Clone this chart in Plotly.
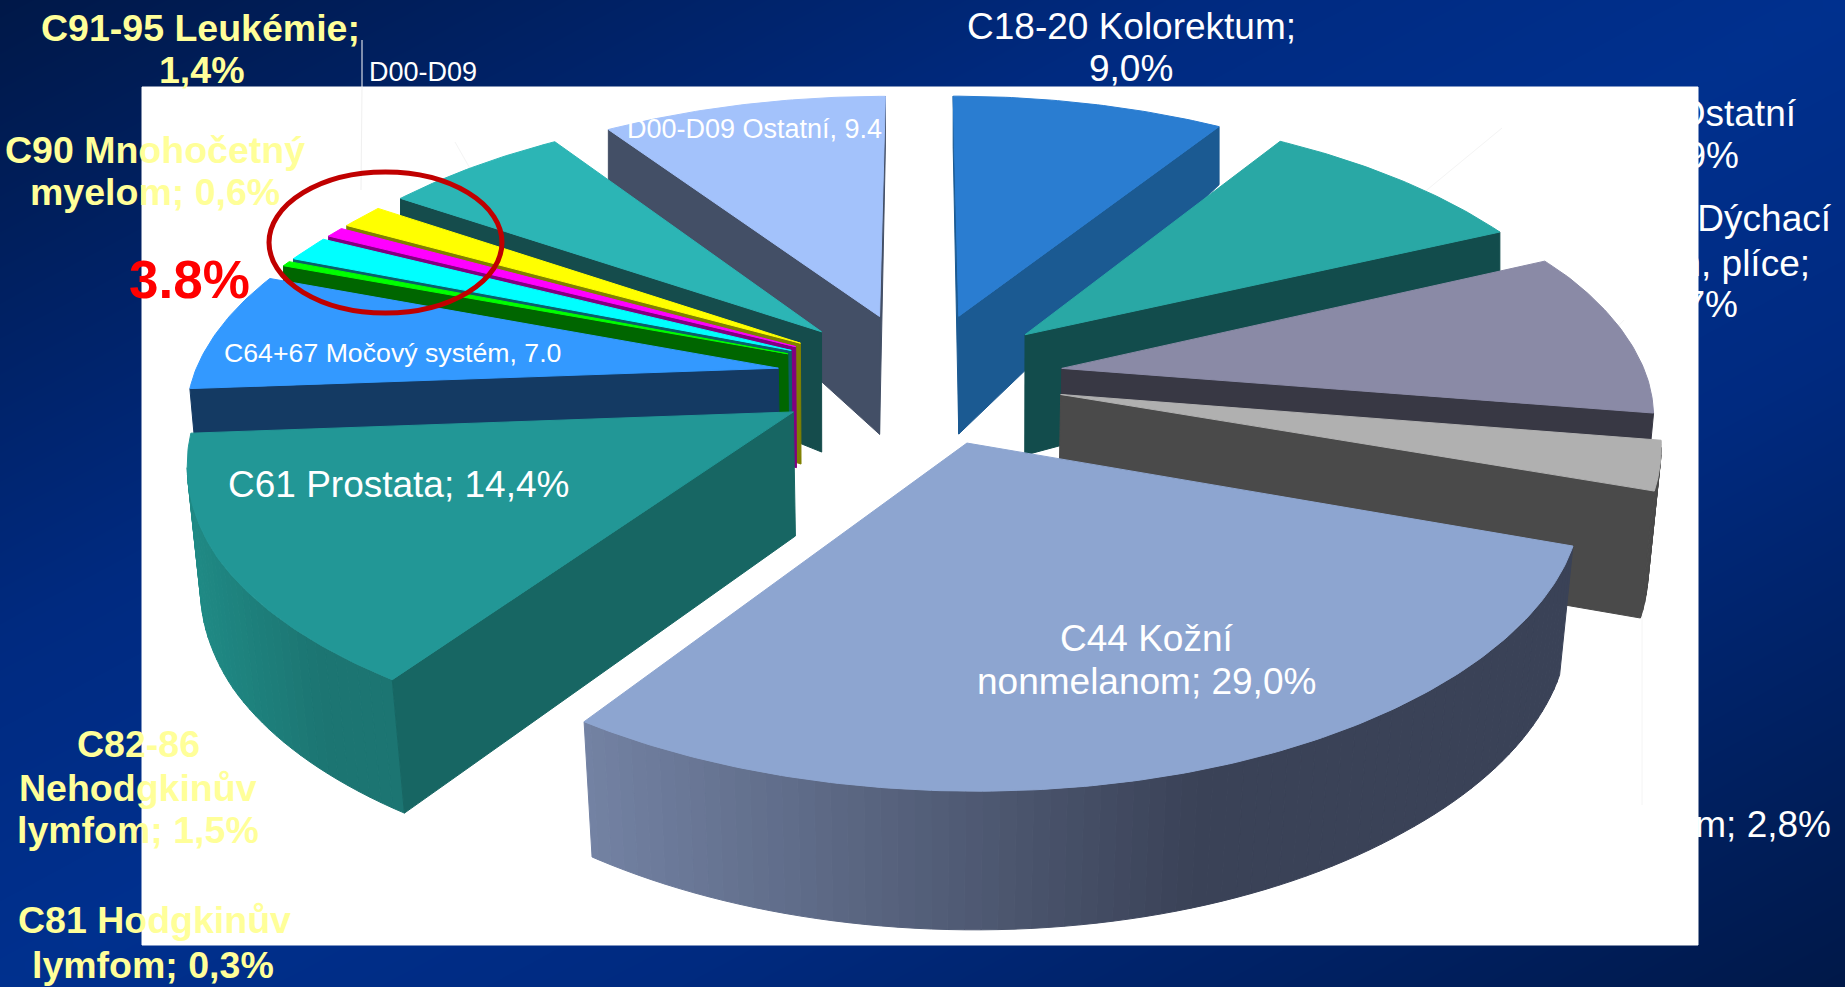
import numpy as np
import plotly.graph_objects as go

# ---------- data ----------
categories = ["C18-20 Kolorektum", "C15-26 Ostatní", "C30-39 Dýchací systém, plíce", "C43 Melanom",
              "C44 Kožní nonmelanom", "C61 Prostata", "C64+67 Močový systém", "C81 Hodgkinův lymfom",
              "C82-86 Nehodgkinův lymfom", "C90 Mnohočetný myelom", "C91-95 Leukémie", "Ostatní", "D00-D09 Ostatní"]
values = [9.0, 8.9, 9.7, 2.8, 29.0, 14.4, 7.0, 0.3, 1.5, 0.6, 1.4, 6.0, 9.4]
top_colors = ["#2a7dd1", "#29a8a5", "#8a8aa6", "#b0b0b0", "#8da5d0", "#229796", "#3399ff",
              "#00ff00", "#00ffff", "#ff00ff", "#ffff00", "#2cb5b5", "#a3c2fb"]
side_colors = ["#1b5a92", "#124c4c", "#383844", "#4a4a4a", "#3a4257", "#176663", "#143a63",
               "#006600", "#0b5f6a", "#800080", "#808000", "#154c4c", "#434f66"]
rim_gradients = {4: ("#7382a3", "#3a4257"), 5: ("#1f8a85", "#1c7572")}

# ---------- view of the exploded 3-D pie ----------
CX, SX, CY, SY, P, EXPLODE = 920, 594, 369, 268, 0.18, 0.246
DEPTH_Y = [-1.25, -1.0, -0.5, -0.2, 0.2, 0.6, 1.0, 1.25]
DEPTH_PX = [139, 134, 128, 125, 120, 95, 62, 50]
W, H = 1845, 987


def project(X, Y):
    w = 1 + P * Y
    kx = np.interp(Y, [-1.25, -1.0, -0.3, 0.0, 0.4], [0.95, 0.955, 0.975, 0.985, 0.995])
    dy = np.interp(Y, [-1.25, -1.0, -0.6, -0.1, 0.6, 1.0, 1.25], [-3, 1, 8, 9, 7, 1, -2])
    return CX + kx * SX * X / w, CY - SY * Y / w + dy


def project_bottom(X, Y):
    x, y = project(X, Y)
    k = np.interp(Y, [-1.25, -0.5, 0, 0.2], [0.975, 0.98, 0.985, 1.0])
    return CX + (x - CX) * k, y + np.interp(Y, DEPTH_Y, DEPTH_PX)


def hex_mix(c0, c1, t):
    a = [int(c0[i:i + 2], 16) for i in (1, 3, 5)]
    b = [int(c1[i:i + 2], 16) for i in (1, 3, 5)]
    return "rgb(%d,%d,%d)" % tuple(round(u + (v - u) * t) for u, v in zip(a, b))


def poly(xs, ys, color):
    return go.Scatter(x=list(xs), y=list(ys), mode="lines", fill="toself", fillcolor=color,
                      line=dict(color=color, width=1), hoverinfo="skip", showlegend=False)


def front_facing(p0, p1, q):
    dx = p1[0] - p0[0]
    if abs(dx) < 1e-9:
        return True
    return p0[1] + (q[0] - p0[0]) * (p1[1] - p0[1]) / dx > q[1]


def wedge_traces(i, start, end):
    mid = np.radians((start + end) / 2)
    ax, ay = EXPLODE * np.sin(mid), EXPLODE * np.cos(mid)
    th = np.radians(np.linspace(start, end, max(4, int((end - start) * 1.5))))
    X, Y = ax + np.sin(th), ay + np.cos(th)
    xt, yt = project(X, Y)
    xb, yb = project_bottom(X, Y)
    apx, apy = project(ax, ay)
    abx, aby = project_bottom(ax, ay)
    out = []
    # outer curved side
    xlo, xhi = xt.min(), xt.max()
    for k in range(0, len(th) - 1, 2):
        j = min(k + 2, len(th) - 1)
        if xt[j] >= xt[k]:
            continue
        if i in rim_gradients:
            t = np.clip(((xt[k] + xt[j]) / 2 - xlo) / (0.62 * (xhi - xlo)), 0, 1)
            col = hex_mix(*rim_gradients[i], t)
        else:
            col = side_colors[i]
        seg = list(range(k, j + 1))
        out.append(poly(list(xt[seg]) + list(xb[seg][::-1]) + [xt[k]],
                        list(yt[seg]) + list(yb[seg][::-1]) + [yt[k]], col))
    # flat cut faces
    q = (xt[len(th) // 2], yt[len(th) // 2])
    for e in (0, -1):
        if front_facing((apx, apy), (xt[e], yt[e]), q):
            out.append(poly([apx, xt[e], xb[e], abx, apx], [apy, yt[e], yb[e], aby, apy], side_colors[i]))
    # top face
    out.append(poly([apx] + list(xt) + [apx], [apy] + list(yt) + [apy], top_colors[i]))
    return ay, out


fig = go.Figure()

# slide background
gx = np.linspace(0, W, 60)
gy = np.linspace(0, H, 40)
gz = np.abs(gx[None, :] / W + gy[:, None] / H - 1.0)
fig.add_trace(go.Heatmap(x=gx, y=gy, z=gz, zsmooth="best", zmin=0, zmax=1, showscale=False, hoverinfo="skip",
                         colorscale=[[0, "#00308e"], [0.35, "#002a80"], [1, "#001848"]]))

# data labels that the white plate partly covers
covered = [("C15-26 Ostatní", 1796, 117), ("GIT; 8,9%", 1739, 159),
           ("C30-39 Dýchací", 1831, 222), ("systém, plíce;", 1810, 267), ("9,7%", 1738, 308),
           ("C43 Melanom; 2,8%", 1831, 828)]
fig.add_trace(go.Scatter(x=[c[1] for c in covered], y=[c[2] for c in covered], text=[c[0] for c in covered],
                         mode="text", textposition="middle left", hoverinfo="skip", showlegend=False,
                         textfont=dict(family="Liberation Sans", size=37, color="white")))

# white plate
fig.add_trace(poly([142, 1698, 1698, 142, 142], [87, 87, 945, 945, 87], "white"))

# faint leader lines
for lx, ly, col in [([362, 362], [40, 87], "#ffffff"), ([362, 361], [87, 190], "#f0f0f0"),
                    ([1502, 1405], [128, 208], "#f4f4f4"), ([1624, 1600], [320, 345], "#f4f4f4"),
                    ([1642, 1642], [610, 805], "#f4f4f4"), ([455, 472], [142, 172], "#f4f4f4")]:
    fig.add_trace(go.Scatter(x=lx, y=ly, mode="lines", line=dict(color=col, width=1),
                             hoverinfo="skip", showlegend=False))

# wedges, drawn back to front
total = sum(values)
edges = np.cumsum([0] + values) / total * 360
parts = [wedge_traces(i, edges[i], edges[i + 1]) for i in range(len(values))]
for _, traces in sorted(parts, key=lambda p: -p[0]):
    for t in traces:
        fig.add_trace(t)

# ring round the small categories
fig.add_shape(type="circle", x0=269, x1=502, y0=172, y1=313, line=dict(color="#c00000", width=5))

YEL = "#ffff99"
labels = [
    ("C91-95 Leukémie;", 200, 28, 37.5, YEL, True), ("1,4%", 201, 70, 37.5, YEL, True),
    ("C90 Mnohočetný", 155, 150, 37.5, YEL, True), ("myelom; 0,6%", 155, 192, 37.5, YEL, True),
    ("3.8%", 189, 279, 53, "#ff0000", True),
    ("C82-86", 138, 744, 37.5, YEL, True), ("Nehodgkinův", 138, 788, 37.5, YEL, True),
    ("lymfom; 1,5%", 138, 830, 37.5, YEL, True),
    ("C81 Hodgkinův", 154, 920, 37.5, YEL, True), ("lymfom; 0,3%", 153, 965, 37.5, YEL, True),
    ("C18-20 Kolorektum;", 1131, 26, 37, "white", False), ("9,0%", 1131, 68, 37, "white", False),
    ("C44 Kožní", 1146, 638, 37, "white", False), ("nonmelanom; 29,0%", 1146, 681, 37, "white", False),
    ("C61 Prostata; 14,4%", 398, 484, 37, "white", False),
    ("C64+67 Močový systém, 7.0", 392, 353, 26.7, "white", False),
    ("D00-D09 Ostatní, 9.4", 754, 129, 27, "white", False),
    ("D00-D09", 423, 72, 27, "white", False),
]
for txt, x, y, size, col, bold in labels:
    fig.add_annotation(x=x, y=y, text=f"<b>{txt}</b>" if bold else txt, showarrow=False,
                       xanchor="center", yanchor="middle",
                       font=dict(family="Liberation Sans", size=size, color=col))

fig.update_layout(width=W, height=H, margin=dict(l=0, r=0, t=0, b=0), showlegend=False,
                  paper_bgcolor="#001f66", plot_bgcolor="#001f66",
                  xaxis=dict(range=[0, W], visible=False, fixedrange=True),
                  yaxis=dict(range=[H, 0], visible=False, fixedrange=True))
fig.write_html("out.html", config={"displayModeBar": False},
               post_script="document.body.style.margin='0';document.body.style.overflow='hidden';")
